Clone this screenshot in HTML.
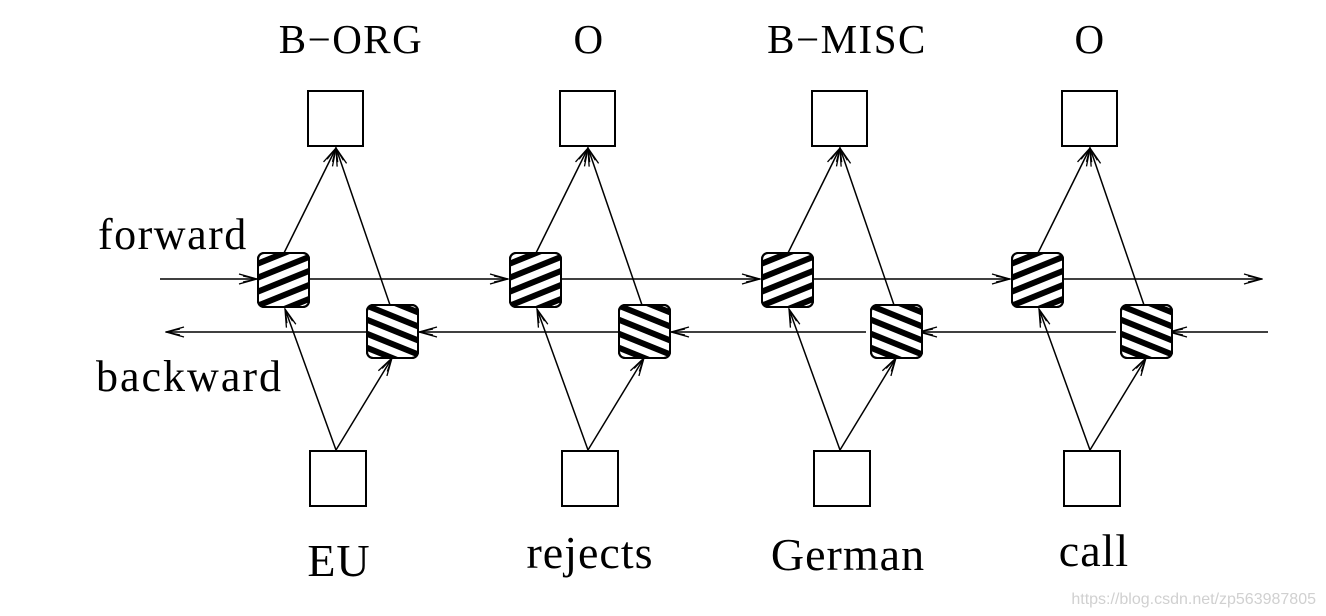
<!DOCTYPE html>
<html><head><meta charset="utf-8"><style>
html,body{margin:0;padding:0;background:#fff;}
svg{display:block;}
text{font-family:"Liberation Serif",serif;fill:#000;}
</style></head><body>
<svg width="1326" height="616" viewBox="0 0 1326 616" xmlns="http://www.w3.org/2000/svg">
<defs>
<pattern id="hf" patternUnits="userSpaceOnUse" width="13" height="13" patternTransform="rotate(-22)">
<rect width="13" height="6" fill="#000"/>
</pattern>
<pattern id="hb" patternUnits="userSpaceOnUse" width="13" height="13" patternTransform="rotate(22)">
<rect width="13" height="6" fill="#000"/>
</pattern>
<marker id="ar" viewBox="0 0 20 12" refX="19" refY="6" markerWidth="20" markerHeight="12" markerUnits="userSpaceOnUse" orient="auto">
<path d="M1,1 L19,6 L1,11 M5,3 L19,6 L5,9" fill="none" stroke="#000" stroke-width="1.3"/>
</marker>
<g id="col" stroke="#000" fill="none" stroke-width="1.5">
<rect x="308" y="91" width="55" height="55" fill="#fff" stroke-width="2"/>
<rect x="310" y="451" width="56" height="55" fill="#fff" stroke-width="2"/>
<line x1="284" y1="253" x2="336" y2="148" marker-end="url(#ar)"/>
<line x1="390" y1="305" x2="336" y2="148" marker-end="url(#ar)"/>
<line x1="336" y1="450" x2="285" y2="309" marker-end="url(#ar)"/>
<line x1="336" y1="450" x2="392" y2="358" marker-end="url(#ar)"/>
<rect x="258" y="253" width="51" height="54" rx="6" fill="#fff" stroke-width="2"/>
<rect x="258" y="253" width="51" height="54" rx="6" fill="url(#hf)" stroke-width="2"/>
<rect x="367" y="305" width="51" height="53" rx="6" fill="#fff" stroke-width="2"/>
<rect x="367" y="305" width="51" height="53" rx="6" fill="url(#hb)" stroke-width="2"/>
</g>
</defs>
<g stroke="#000" stroke-width="1.6" fill="none">
<line x1="160" y1="279" x2="257" y2="279" marker-end="url(#ar)"/>
<line x1="310" y1="279" x2="508" y2="279" marker-end="url(#ar)"/>
<line x1="562" y1="279" x2="760" y2="279" marker-end="url(#ar)"/>
<line x1="814" y1="279" x2="1010" y2="279" marker-end="url(#ar)"/>
<line x1="1064" y1="279" x2="1262" y2="279" marker-end="url(#ar)"/>
<line x1="1268" y1="332" x2="1169" y2="332" marker-end="url(#ar)"/>
<line x1="1116" y1="332" x2="919" y2="332" marker-end="url(#ar)"/>
<line x1="866" y1="332" x2="671" y2="332" marker-end="url(#ar)"/>
<line x1="619" y1="332" x2="419" y2="332" marker-end="url(#ar)"/>
<line x1="367" y1="332" x2="166" y2="332" marker-end="url(#ar)"/>
</g>
<use href="#col"/>
<use href="#col" transform="translate(252,0)"/>
<use href="#col" transform="translate(504,0)"/>
<use href="#col" transform="translate(754,0)"/>
<g font-size="41" text-anchor="middle" letter-spacing="1.5">
<text x="351" y="53">B−ORG</text>
<text x="589" y="53">O</text>
<text x="847" y="53">B−MISC</text>
<text x="1090" y="53">O</text>
</g>
<text x="98" y="249" font-size="44" letter-spacing="1.5">forward</text>
<text x="96" y="391" font-size="44" letter-spacing="2">backward</text>
<g font-size="46" text-anchor="middle" letter-spacing="1">
<text x="339" y="576">EU</text>
<text x="590" y="568">rejects</text>
<text x="848" y="570">German</text>
<text x="1094" y="566">call</text>
</g>
<text x="1316" y="604" font-size="16" text-anchor="end" style="font-family:'Liberation Sans',sans-serif;fill:#d0d0d0">https://blog.csdn.net/zp563987805</text>
</svg>
</body></html>
